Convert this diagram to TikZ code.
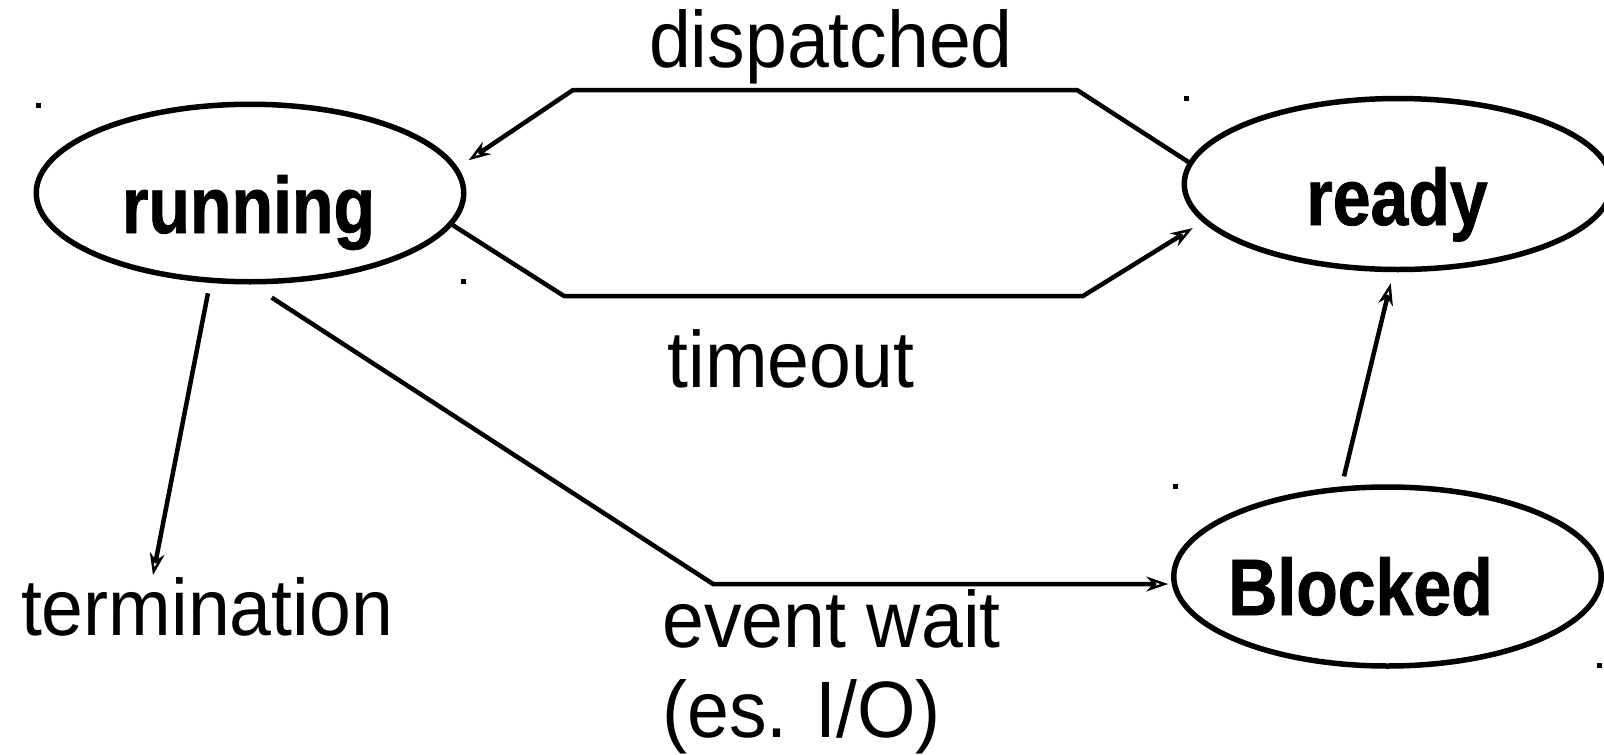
\documentclass[tikz,border=0pt]{standalone}
\usepackage{fontspec}
\setmainfont{Liberation Sans}
\newfontfamily\labelfont{Liberation Sans}[FakeStretch=0.94]
\newfontfamily\statefont{Liberation Sans}[FakeStretch=0.85,FakeBold=1]
\usetikzlibrary{shapes.geometric,arrows.meta}
\begin{document}
\begin{tikzpicture}[x=1pt,y=-1pt,
  state/.style={ellipse, draw, line width=5.5pt, inner sep=0pt, minimum width=427.5pt},
  statetext/.style={font=\statefont\bfseries\fontsize{80}{90}\selectfont, inner sep=0pt, anchor=base},
  lbl/.style={font=\labelfont\fontsize{80}{90}\selectfont, inner sep=0pt, anchor=base},
  conn/.style={line width=4.5pt, -{Stealth[open,length=22pt,width=15pt,inset=7pt,line width=2.5pt]}},
  cornerdot/.style={fill=black}]
\useasboundingbox (0,0) rectangle (1604,755);

% states
\node[state, minimum height=177.5pt] (running) at (250,193) {};
\node[state, minimum height=171pt] (ready) at (1398,184) {};
\node[state, minimum height=179pt] (blocked) at (1387.5,576.5) {};

\node[statetext] (runningt) at (248.5,233) {running};
\node[statetext] (readyt) at (1397,225) {ready};
\node[statetext] (blockedt) at (1360.5,615) {Blocked};

% labels
\node[lbl] (dispt) at (831,67) {dispatched};
\node[lbl] (timet) at (791,387) {timeout};
\node[lbl] (termt) at (207,635) {termination};
\node[lbl, anchor=base west] (ew1) at (662,647) {event wait};
\node[lbl, anchor=base west] (ew2) at (662,737) {(es. I/O)};

% bend points
\coordinate (d1) at (1077,90);
\coordinate (d2) at (573,90);
\coordinate (t1) at (564,296);
\coordinate (t2) at (1083,296);
\coordinate (ewb) at (713,584);
\coordinate (termtip) at (153,575);

% connectors
\draw[conn, shorten >=13pt] (ready.174) -- (d1) -- (d2) -- (running.7.2);
\draw[conn, shorten >=11.7pt] (running.-9.7) -- (t1) -- (t2) -- (ready.191);
\draw[conn, shorten <=10.6pt] (running.246.9) -- (termtip);
\draw[conn, shorten <=24pt, shorten >=3.5pt] (running.-89.3) -- (ewb) -- (blocked.182);
\draw[conn, shorten <=10.3pt, shorten >=11.3pt] (blocked.117.7) -- (ready.267.2);

% corner marks
\fill[cornerdot] (35.8,103.2) rectangle ++(5,5);
\fill[cornerdot] (460.5,278.5) rectangle ++(5,5);
\fill[cornerdot] (1184.3,95.8) rectangle ++(5,5);
\fill[cornerdot] (1173.2,484.2) rectangle ++(5,5);
\fill[cornerdot] (1596.5,663.2) rectangle ++(5,5);
\end{tikzpicture}
\end{document}
